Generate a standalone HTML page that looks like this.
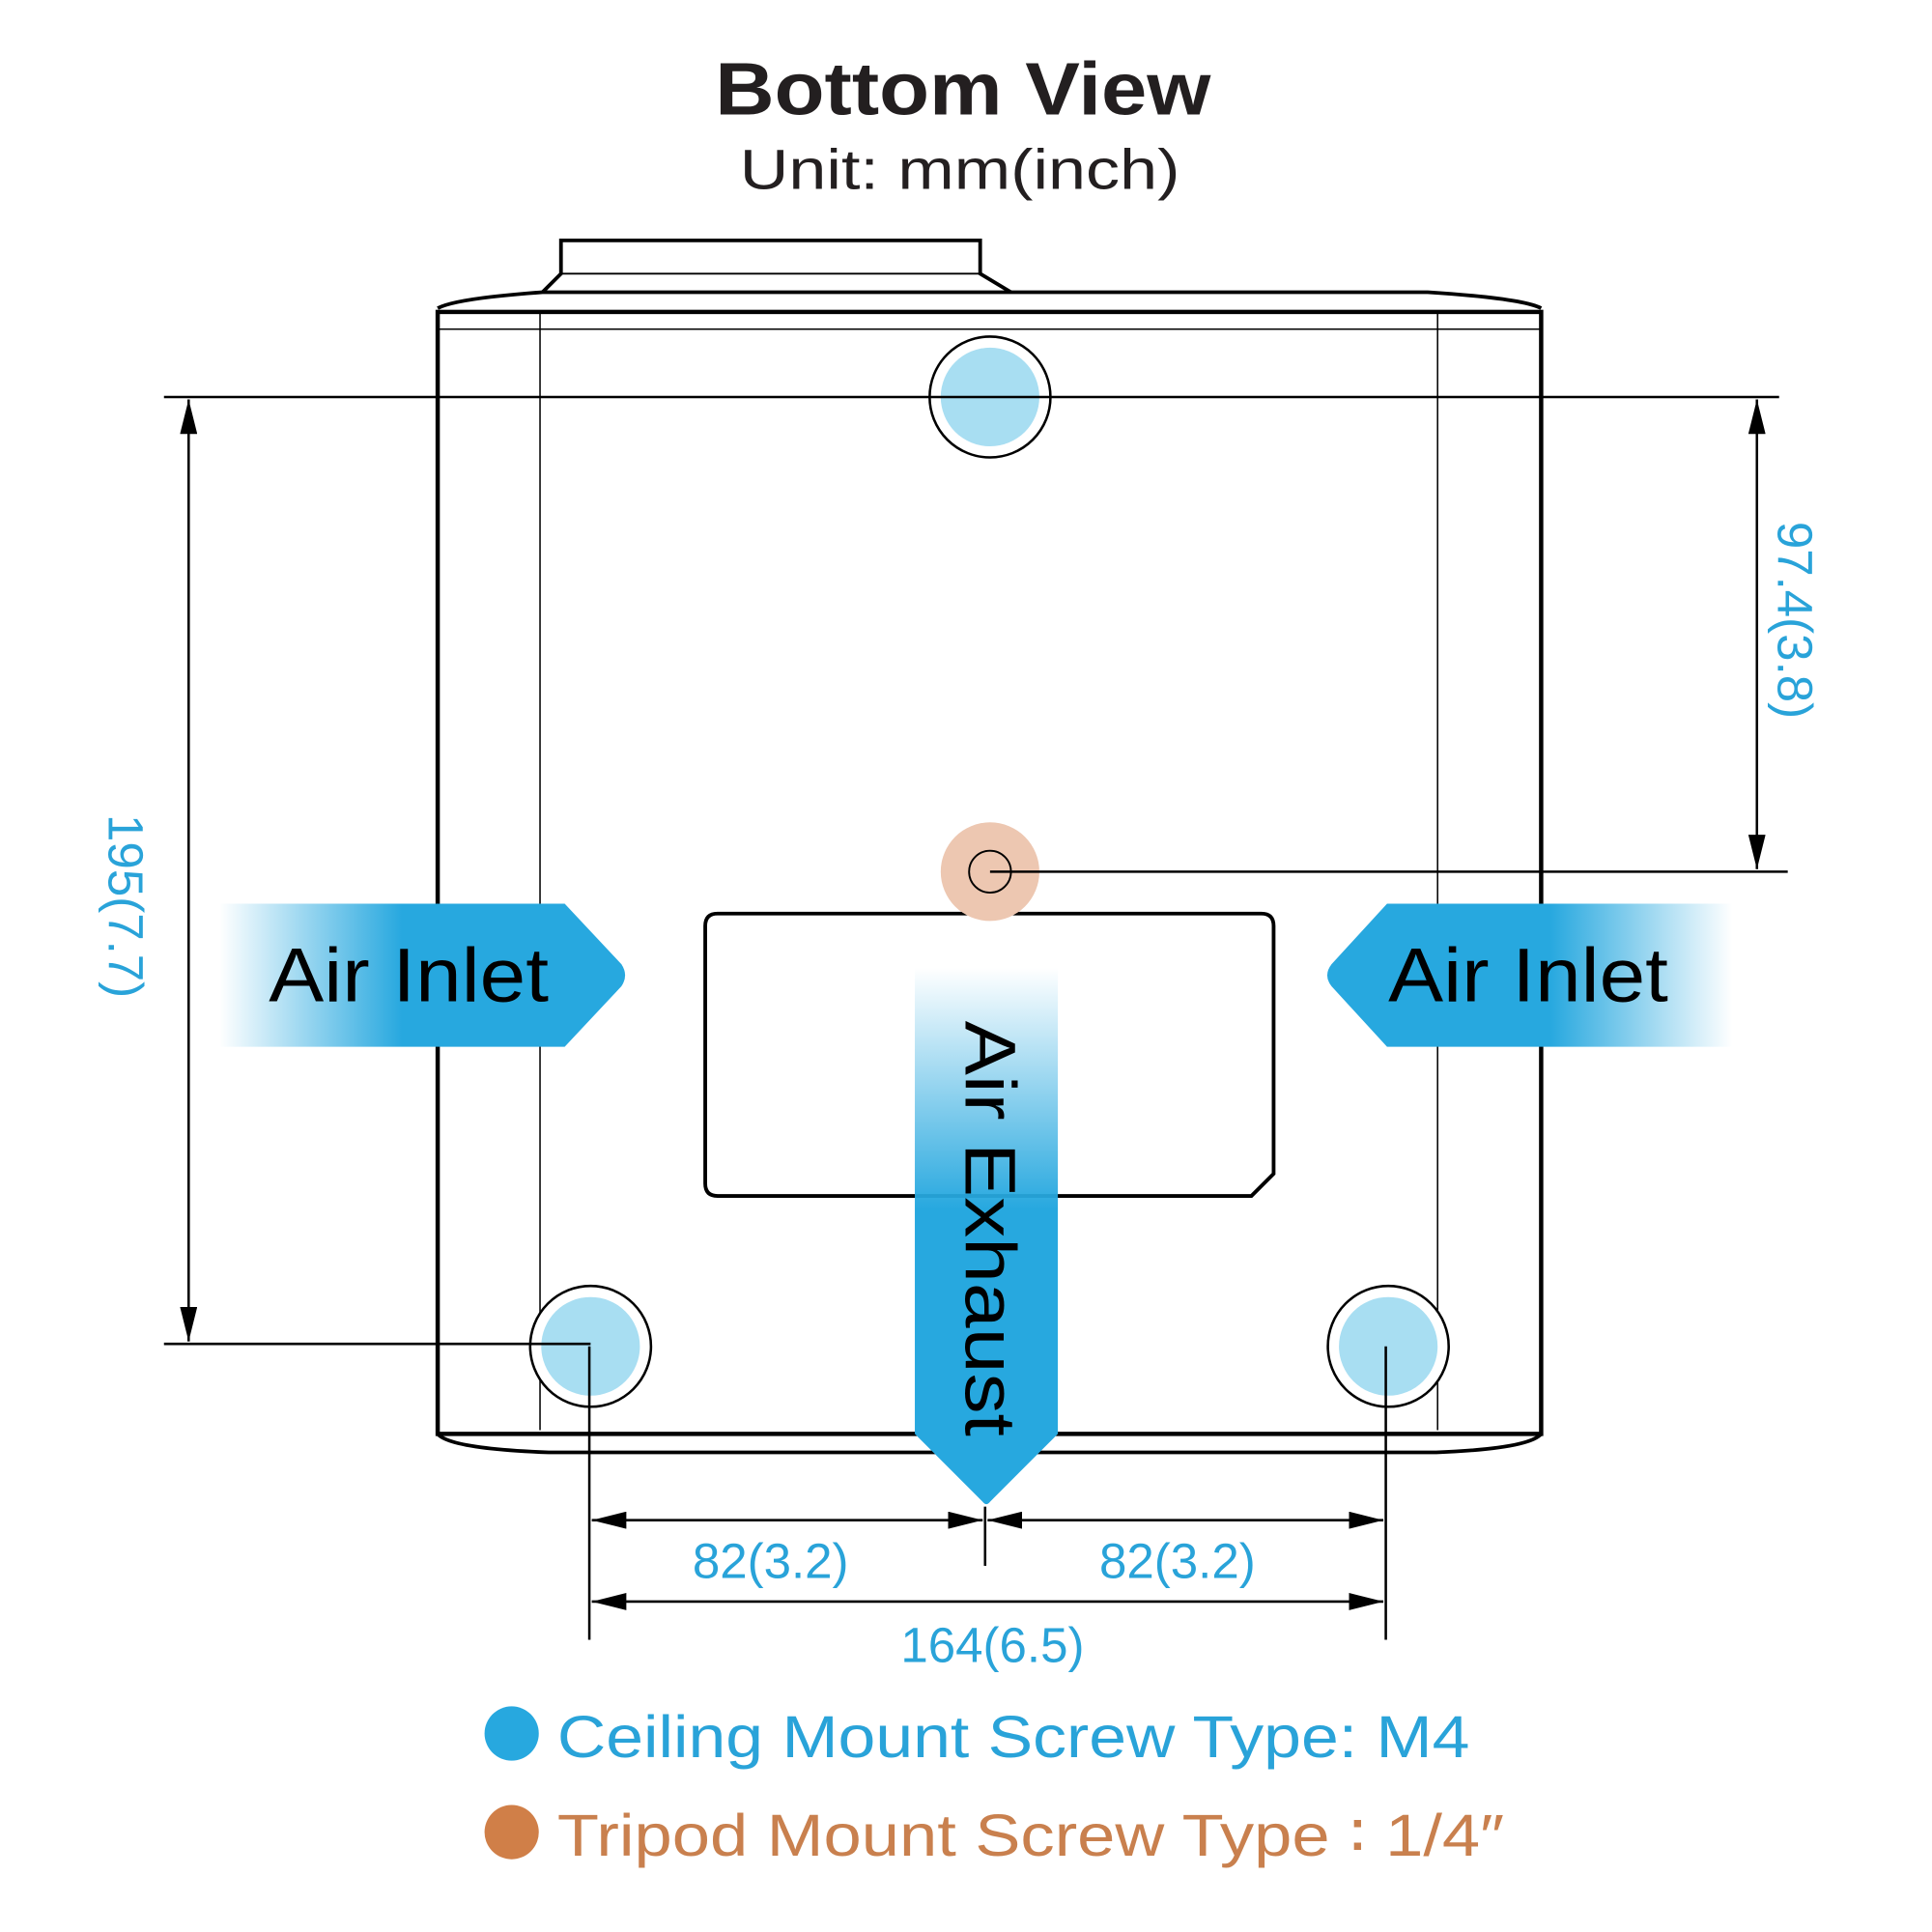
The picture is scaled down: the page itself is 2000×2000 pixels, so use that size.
<!DOCTYPE html>
<html><head><style>html,body{margin:0;padding:0;background:#fff}svg{display:block}</style></head>
<body>
<svg width="2000" height="2000" viewBox="0 0 1567 1567" xmlns="http://www.w3.org/2000/svg" font-family="Liberation Sans, sans-serif">
<defs>
<linearGradient id="gl" x1="0" x2="1" y1="0" y2="0"><stop offset="0" stop-color="#27a8df" stop-opacity="0"/><stop offset="0.45" stop-color="#27a8df"/><stop offset="1" stop-color="#27a8df"/></linearGradient>
<linearGradient id="gr" x1="1" x2="0" y1="0" y2="0"><stop offset="0" stop-color="#27a8df" stop-opacity="0"/><stop offset="0.45" stop-color="#27a8df"/><stop offset="1" stop-color="#27a8df"/></linearGradient>
<linearGradient id="gv" x1="0" x2="0" y1="0" y2="1"><stop offset="0" stop-color="#27a8df" stop-opacity="0"/><stop offset="0.45" stop-color="#27a8df"/><stop offset="1" stop-color="#27a8df"/></linearGradient>
<marker id="ar" viewBox="0 0 28 14" refX="28" refY="7" markerWidth="28" markerHeight="14" markerUnits="userSpaceOnUse" orient="auto-start-reverse"><path d="M0,0 L28,7 L0,14 z" fill="#000"/></marker>
</defs>
<text x="580" y="93" font-size="60" font-weight="bold" fill="#231f20" textLength="402" lengthAdjust="spacingAndGlyphs">Bottom View</text>
<text x="600" y="153" font-size="46" fill="#231f20" textLength="357" lengthAdjust="spacingAndGlyphs">Unit: mm(inch)</text>
<g fill="none" stroke="#000">
<path d="M440,237 L455,222 L455,195 L795,195 L795,222 L820,237" stroke-width="3"/>
<line x1="455" y1="222" x2="795" y2="222" stroke-width="1.5"/>
<path d="M355,250 Q370,242 440,237 L1158,237 Q1235,242 1250,250" stroke-width="3"/>
<rect x="355" y="253" width="895" height="910" stroke-width="3.5"/>
<line x1="355" y1="267" x2="1250" y2="267" stroke-width="1.2"/>
<path d="M355,1163 Q365,1175 445,1178 L1165,1178 Q1240,1175 1250,1163" stroke-width="3"/>
<line x1="438" y1="253" x2="438" y2="1160" stroke-width="1.2"/>
<line x1="1166" y1="253" x2="1166" y2="1160" stroke-width="1.2"/>
<path d="M582,741 L1023,741 Q1033,741 1033,751 L1033,952 L1015,970 L582,970 Q572,970 572,960 L572,751 Q572,741 582,741 Z" stroke-width="3"/>
</g>
<g stroke="#000" stroke-width="2">
<circle cx="803" cy="322" r="49" fill="#fff"/>
<circle cx="479" cy="1092" r="49" fill="#fff"/>
<circle cx="1126" cy="1092" r="49" fill="#fff"/>
</g>
<g fill="#a8def2">
<circle cx="803" cy="322" r="40"/><circle cx="479" cy="1092" r="40"/><circle cx="1126" cy="1092" r="40"/>
</g>
<circle cx="803" cy="707" r="40" fill="#edc7b1"/>
<circle cx="803" cy="707" r="17" fill="none" stroke="#000" stroke-width="1.5"/>
<path d="M178,733 L458,733 L504,782 Q510,791 504,800 L458,849 L178,849 Z" fill="url(#gl)"/>
<text x="218" y="812" font-size="62" fill="#000" textLength="227" lengthAdjust="spacingAndGlyphs">Air Inlet</text>
<path d="M1405,733 L1125,733 L1080,782 Q1073,791 1080,800 L1125,849 L1405,849 Z" fill="url(#gr)"/>
<text x="1126" y="812" font-size="62" fill="#000" textLength="227" lengthAdjust="spacingAndGlyphs">Air Inlet</text>
<path d="M742,785 L858,785 L858,1163 L803,1218 Q800,1222 797,1218 L742,1163 Z" fill="url(#gv)"/>
<text transform="translate(783,828) rotate(90)" font-size="58" fill="#000" textLength="337" lengthAdjust="spacingAndGlyphs">Air Exhaust</text>
<g stroke="#000" stroke-width="2">
<line x1="133" y1="322" x2="1443" y2="322"/>
<line x1="133" y1="1090" x2="479" y2="1090"/>
<line x1="803" y1="707" x2="1450" y2="707"/>
<line x1="153" y1="324" x2="153" y2="1088" marker-start="url(#ar)" marker-end="url(#ar)"/>
<line x1="1425" y1="324" x2="1425" y2="705" marker-start="url(#ar)" marker-end="url(#ar)"/>
<line x1="478" y1="1092" x2="478" y2="1330"/>
<line x1="1124" y1="1092" x2="1124" y2="1330"/>
<line x1="799" y1="1222" x2="799" y2="1270"/>
<line x1="480" y1="1233" x2="797" y2="1233" marker-start="url(#ar)" marker-end="url(#ar)"/>
<line x1="801" y1="1233" x2="1122" y2="1233" marker-start="url(#ar)" marker-end="url(#ar)"/>
<line x1="480" y1="1299" x2="1122" y2="1299" marker-start="url(#ar)" marker-end="url(#ar)"/>
</g>
<g fill="#29a3d9" font-size="40">
<text transform="translate(88,735) rotate(90)" text-anchor="middle">195(7.7)</text>
<text transform="translate(1442,503) rotate(90)" text-anchor="middle">97.4(3.8)</text>
<text x="625" y="1280" text-anchor="middle">82(3.2)</text>
<text x="955" y="1280" text-anchor="middle">82(3.2)</text>
<text x="805" y="1348" text-anchor="middle">164(6.5)</text>
</g>
<circle cx="415" cy="1406" r="22" fill="#27a8df"/>
<text x="452" y="1425" font-size="48" fill="#29a3d9" textLength="740" lengthAdjust="spacingAndGlyphs">Ceiling Mount Screw Type: M4</text>
<circle cx="415" cy="1486" r="22" fill="#d07f48"/>
<text x="452" y="1505" font-size="48" fill="#c9804e" textLength="768" lengthAdjust="spacingAndGlyphs">Tripod Mount Screw Type ∶ 1/4″</text>
</svg>
</body></html>
